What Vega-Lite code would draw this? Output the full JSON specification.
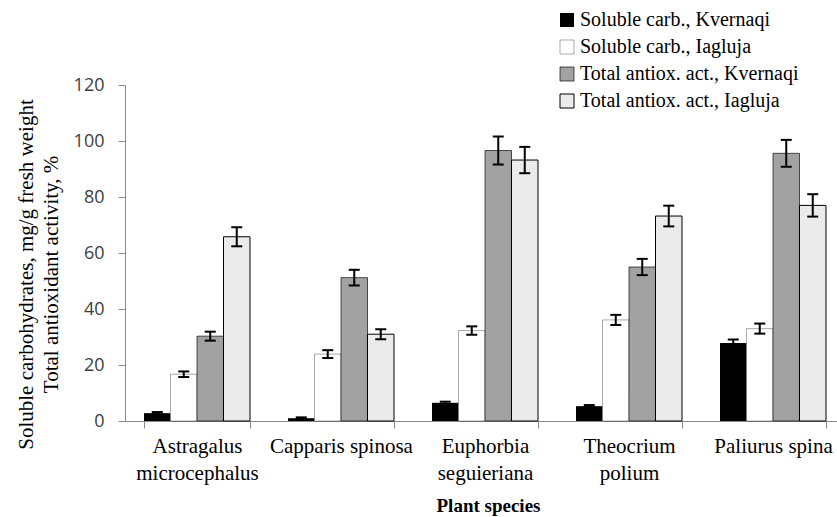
{
  "$schema": "https://vega.github.io/schema/vega-lite/v6.json",
  "width": 712,
  "height": 336,
  "autosize": "none",
  "padding": {"left": 125, "top": 85, "right": 0, "bottom": 96},
  "background": "white",
  "config": {"view": {"stroke": null}},
  "data": {"values": [
    {"species": "Astragalus|microcephalus", "series": "Soluble carb., Kvernaqi", "value": 2.8, "lo": 2.4, "hi": 3.2},
    {"species": "Astragalus|microcephalus", "series": "Soluble carb., Iagluja", "value": 16.7, "lo": 15.7, "hi": 17.7},
    {"species": "Astragalus|microcephalus", "series": "Total antiox. act., Kvernaqi", "value": 30.3, "lo": 28.7, "hi": 31.9},
    {"species": "Astragalus|microcephalus", "series": "Total antiox. act., Iagluja", "value": 65.8, "lo": 62.4, "hi": 69.2},
    {"species": "Capparis spinosa", "series": "Soluble carb., Kvernaqi", "value": 1.0, "lo": 0.7, "hi": 1.3},
    {"species": "Capparis spinosa", "series": "Soluble carb., Iagluja", "value": 23.9, "lo": 22.5, "hi": 25.3},
    {"species": "Capparis spinosa", "series": "Total antiox. act., Kvernaqi", "value": 51.2, "lo": 48.4, "hi": 54.0},
    {"species": "Capparis spinosa", "series": "Total antiox. act., Iagluja", "value": 31.0, "lo": 29.2, "hi": 32.8},
    {"species": "Euphorbia|seguieriana", "series": "Soluble carb., Kvernaqi", "value": 6.5, "lo": 6.1, "hi": 6.9},
    {"species": "Euphorbia|seguieriana", "series": "Soluble carb., Iagluja", "value": 32.3, "lo": 30.8, "hi": 33.8},
    {"species": "Euphorbia|seguieriana", "series": "Total antiox. act., Kvernaqi", "value": 96.6, "lo": 91.6, "hi": 101.6},
    {"species": "Euphorbia|seguieriana", "series": "Total antiox. act., Iagluja", "value": 93.2, "lo": 88.5, "hi": 97.9},
    {"species": "Theocrium|polium", "series": "Soluble carb., Kvernaqi", "value": 5.3, "lo": 4.9, "hi": 5.7},
    {"species": "Theocrium|polium", "series": "Soluble carb., Iagluja", "value": 36.1, "lo": 34.3, "hi": 37.9},
    {"species": "Theocrium|polium", "series": "Total antiox. act., Kvernaqi", "value": 55.0, "lo": 52.1, "hi": 57.9},
    {"species": "Theocrium|polium", "series": "Total antiox. act., Iagluja", "value": 73.2, "lo": 69.5, "hi": 76.9},
    {"species": "Paliurus spina", "series": "Soluble carb., Kvernaqi", "value": 27.9, "lo": 26.7, "hi": 29.1},
    {"species": "Paliurus spina", "series": "Soluble carb., Iagluja", "value": 33.0, "lo": 31.2, "hi": 34.8},
    {"species": "Paliurus spina", "series": "Total antiox. act., Kvernaqi", "value": 95.6, "lo": 90.8, "hi": 100.4},
    {"species": "Paliurus spina", "series": "Total antiox. act., Iagluja", "value": 77.0, "lo": 73.0, "hi": 81.0}
  ]},
  "encoding": {
    "x": {
      "field": "species", "type": "nominal", "sort": null,
      "scale": {"range": [0, 720], "paddingInner": 0.264, "paddingOuter": 0.132},
      "axis": {
        "title": "Plant species",
        "labelExpr": "split(datum.label, '|')",
        "labelAngle": 0,
        "tickBand": "extent",
        "domainColor": "#888888",
        "tickColor": "#888888",
        "tickSize": 7,
        "labelPadding": 7,
        "labelFont": "Liberation Serif",
        "labelFontSize": 21,
        "labelLineHeight": 27,
        "labelColor": "black",
        "labelLimit": 0,
        "titleFont": "Liberation Serif",
        "titleFontSize": 19,
        "titleFontWeight": "bold",
        "titleColor": "black",
        "titleX": 363,
        "titleY": 84,
        "titleBaseline": "middle"
      }
    },
    "xOffset": {
      "field": "series", "type": "nominal",
      "sort": ["Soluble carb., Kvernaqi", "Soluble carb., Iagluja", "Total antiox. act., Kvernaqi", "Total antiox. act., Iagluja"],
      "scale": {"paddingInner": 0, "paddingOuter": 0}
    }
  },
  "layer": [
    {
      "mark": {"type": "bar", "stroke": "black"},
      "encoding": {
        "y": {
          "field": "value", "type": "quantitative",
          "scale": {"domain": [0, 120]},
          "axis": {
            "values": [0, 20, 40, 60, 80, 100, 120],
            "grid": false,
            "domainColor": "#888888",
            "tickColor": "#888888",
            "tickSize": 7,
            "labelPadding": 14,
            "labelFont": "Open Sans",
            "labelFontSize": 18,
            "labelColor": "#404040",
            "title": ["Soluble carbohydrates, mg/g fresh weight", "Total antioxidant activity, %"],
            "titleFont": "Liberation Serif",
            "titleFontSize": 21,
            "titleFontWeight": "normal",
            "titleColor": "black",
            "titleLineHeight": 25,
            "titleX": -110,
            "titleY": 189,
            "titleBaseline": "top",
            "titleAlign": "center",
            "titleAngle": -90,
            "titleLimit": 0
          }
        },
        "color": {
          "field": "series", "type": "nominal",
          "sort": ["Soluble carb., Kvernaqi", "Soluble carb., Iagluja", "Total antiox. act., Kvernaqi", "Total antiox. act., Iagluja"],
          "scale": {
            "domain": ["Soluble carb., Kvernaqi", "Soluble carb., Iagluja", "Total antiox. act., Kvernaqi", "Total antiox. act., Iagluja"],
            "range": ["#000000", "#ffffff", "#a2a2a2", "#ebebeb"]
          },
          "legend": {
            "title": null,
            "orient": "none",
            "legendX": 432,
            "legendY": -75,
            "symbolType": "square",
            "symbolSize": 196,
            "symbolStrokeColor": "black",
            "symbolStrokeWidth": 1.2,
            "labelFont": "Liberation Serif",
            "labelFontSize": 20,
            "labelColor": "black",
            "labelOffset": 3,
            "labelLimit": 0,
            "rowPadding": 7
          }
        },
        "strokeWidth": {
          "field": "series", "type": "nominal",
          "scale": {
            "domain": ["Soluble carb., Kvernaqi", "Soluble carb., Iagluja", "Total antiox. act., Kvernaqi", "Total antiox. act., Iagluja"],
            "range": [0, 1, 2, 2]
          },
          "legend": null
        }
      }
    },
    {
      "mark": {"type": "rule", "color": "black", "strokeWidth": 2},
      "encoding": {
        "y": {"field": "lo", "type": "quantitative"},
        "y2": {"field": "hi"}
      }
    },
    {
      "mark": {"type": "tick", "color": "black", "thickness": 2, "size": 11, "opacity": 1},
      "encoding": {"y": {"field": "lo", "type": "quantitative"}}
    },
    {
      "mark": {"type": "tick", "color": "black", "thickness": 2, "size": 11, "opacity": 1},
      "encoding": {"y": {"field": "hi", "type": "quantitative"}}
    }
  ]
}
